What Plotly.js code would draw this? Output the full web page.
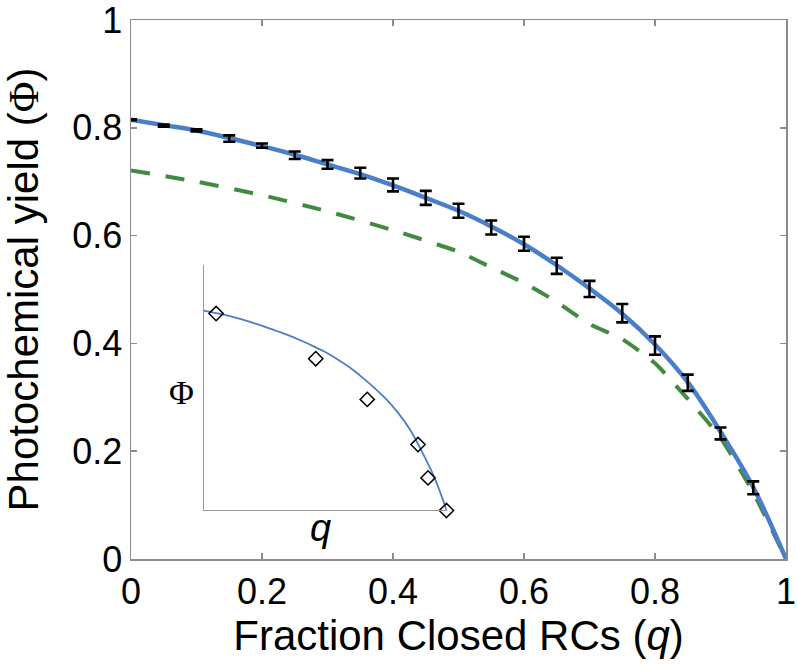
<!DOCTYPE html>
<html>
<head>
<meta charset="utf-8">
<script src="https://cdn.plot.ly/plotly-3.0.1.min.js"></script>
<style>html,body{margin:0;padding:0;background:#fff;}</style>
</head>
<body>
<div id="chart" style="width:797px;height:665px;"></div>
<script>
// Measured points with error bars
const qMeas = [0,0.05,0.1,0.15,0.2,0.25,0.3,0.35,0.4,0.45,0.5,0.55,0.6,0.65,0.7,0.75,0.8,0.85,0.9,0.95];
const phiMeas = [0.815,0.804,0.795,0.780,0.767,0.749,0.732,0.716,0.694,0.670,0.646,0.615,0.585,0.544,0.501,0.456,0.396,0.327,0.233,0.132];
const phiErr = [0.001,0.002,0.002,0.006,0.004,0.007,0.008,0.010,0.012,0.013,0.013,0.013,0.013,0.015,0.015,0.017,0.017,0.015,0.011,0.012];

// Model fit (blue)
const qModel = [0,0.05,0.1,0.15,0.2,0.25,0.3,0.35,0.4,0.45,0.5,0.55,0.6,0.65,0.7,0.75,0.8,0.85,0.9,0.95,1];
const phiModel = [0.815,0.805,0.795,0.781,0.766,0.750,0.732,0.714,0.693,0.670,0.646,0.617,0.584,0.545,0.502,0.455,0.398,0.328,0.236,0.133,0];

// Alternative model (green dashed)
const qAlt = [0,0.1,0.2,0.3,0.4,0.5,0.55,0.6,0.65,0.7,0.75,0.8,0.85,0.9,0.95,1];
const phiAlt = [0.721,0.700,0.675,0.645,0.610,0.570,0.541,0.512,0.477,0.436,0.408,0.363,0.297,0.225,0.123,0];

// Inset data (diamonds)
const qInset = [0.051,0.461,0.673,0.882,0.923,0.999];
const phiInset = [0.803,0.619,0.453,0.269,0.133,0.0];

const xTicks = [0,0.2,0.4,0.6,0.8,1];
const xTickText = ['0','0.2','0.4','0.6','0.8','1'];
const yTicks = [0,0.2,0.4,0.6,0.8,1];
const yTickText = ['0','0.2','0.4','0.6','0.8','1'];

const BLUE = '#4a7ec8';
const GREEN = '#43893f';
const AX = '#8c8c8c';
const FONT = 'Liberation Sans, Arial, Helvetica, sans-serif';

const traces = [
  {x: qAlt, y: phiAlt, mode: 'lines', line: {color: GREEN, width: 4, dash: '19px,16px', shape: 'spline', smoothing: 0.6}, hoverinfo: 'skip', showlegend: false},
  {x: qModel, y: phiModel, mode: 'lines', line: {color: BLUE, width: 4.5, shape: 'spline', smoothing: 1}, hoverinfo: 'skip', showlegend: false},
  {x: qMeas, y: phiMeas, mode: 'markers', marker: {size: 1, color: 'rgba(0,0,0,0)'},
   error_y: {type: 'data', array: phiErr, visible: true, color: '#000', thickness: 2.6, width: 6},
   cliponaxis: false, showlegend: false},
  {x: qModel, y: phiModel, xaxis: 'x2', yaxis: 'y2', mode: 'lines', line: {color: BLUE, width: 1.8, shape: 'spline', smoothing: 1}, showlegend: false},
  {x: qInset, y: phiInset, xaxis: 'x2', yaxis: 'y2', mode: 'markers', cliponaxis: false,
   marker: {symbol: 'diamond-open', size: 11, color: '#000', line: {width: 1.5, color: '#000'}}, showlegend: false}
];

const layout = {
  width: 797, height: 665,
  margin: {l: 131, r: 11, t: 20, b: 106},
  paper_bgcolor: '#fff', plot_bgcolor: '#fff',
  font: {family: FONT, color: '#000'},
  showlegend: false,
  xaxis: {
    range: [0, 1], tickvals: xTicks, ticktext: xTickText,
    ticks: 'inside', ticklen: 6, tickwidth: 1.5, tickcolor: AX,
    showline: true, linecolor: AX, linewidth: 1.5, mirror: 'ticks',
    showgrid: false, zeroline: false, ticklabeloverflow: 'allow',
    tickfont: {size: 36, family: FONT, color: '#000'},
    title: {text: 'Fraction Closed RCs (<i>q</i>)', font: {size: 42, family: FONT, color: '#000'}, standoff: 8}
  },
  yaxis: {
    range: [0, 1], tickvals: yTicks, ticktext: yTickText,
    ticks: 'inside', ticklen: 6, tickwidth: 1.5, tickcolor: AX,
    showline: true, linecolor: AX, linewidth: 1.5, mirror: 'ticks',
    showgrid: false, zeroline: false, ticklabeloverflow: 'allow',
    tickfont: {size: 36, family: FONT, color: '#000'},
    title: {text: 'Photochemical yield (<span style="font-family:Liberation Serif">Φ</span>)', font: {size: 42, family: FONT, color: '#000'}, standoff: 20}
  },
  xaxis2: {
    domain: [0.111, 0.482], anchor: 'y2', range: [0, 1],
    showline: true, linecolor: '#999', linewidth: 1, mirror: false,
    showticklabels: false, ticks: '', showgrid: false, zeroline: false
  },
  yaxis2: {
    domain: [0.090, 0.545], anchor: 'x2', range: [0, 1],
    showline: true, linecolor: '#999', linewidth: 1, mirror: false,
    showticklabels: false, ticks: '', showgrid: false, zeroline: false
  },
  annotations: [
    {text: 'Φ', xref: 'paper', yref: 'paper', x: 0.0775, y: 0.308, xanchor: 'center', yanchor: 'middle', showarrow: false,
     font: {family: 'Liberation Serif, Times New Roman, serif', size: 34, color: '#000'}},
    {text: '<i>q</i>', xref: 'paper', yref: 'paper', x: 0.289, y: 0.058, xanchor: 'center', yanchor: 'middle', showarrow: false,
     font: {family: FONT, size: 38, color: '#000'}}
  ]
};

Plotly.newPlot('chart', traces, layout, {displayModeBar: false, staticPlot: true});
</script>
</body>
</html>
